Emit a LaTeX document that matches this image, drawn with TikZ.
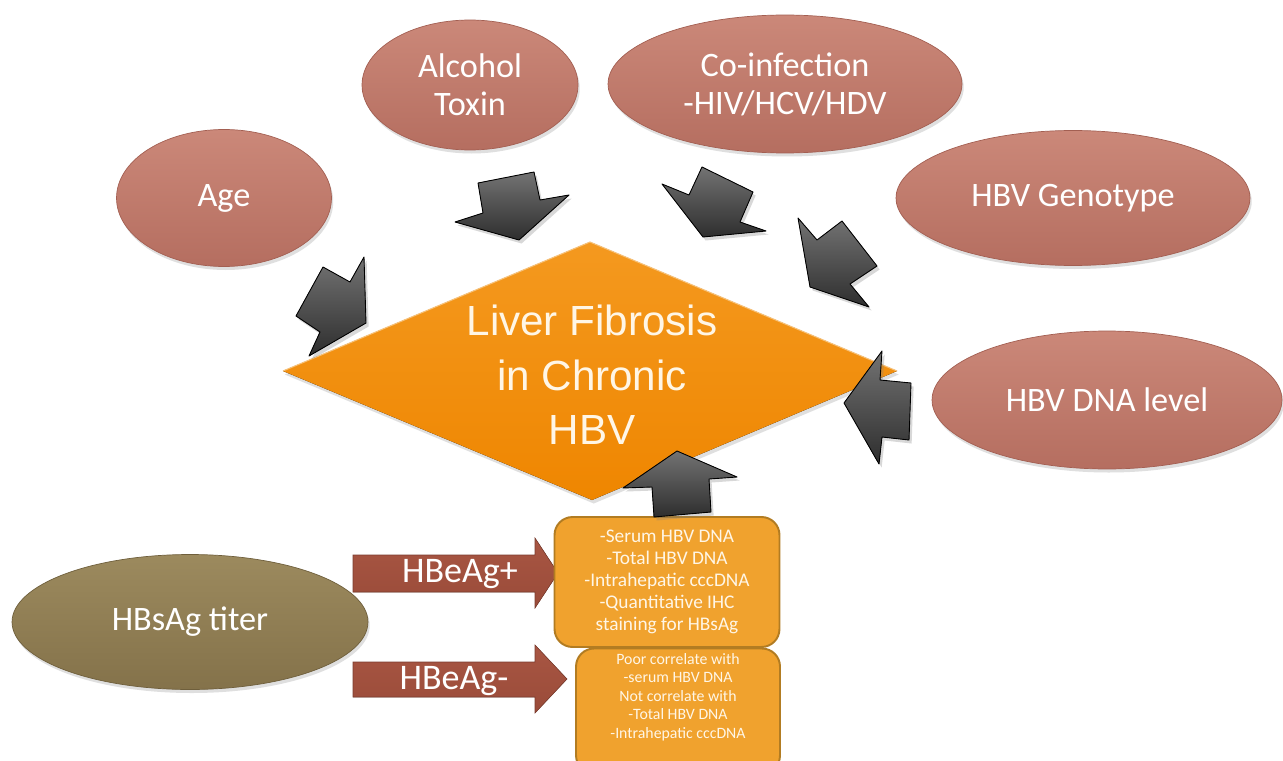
\documentclass[tikz,border=0pt]{standalone}
\usepackage{fontspec}
\setmainfont{Carlito}
\newfontfamily\arialfont{Liberation Sans}
\usetikzlibrary{shapes.geometric, shadows}
\definecolor{rosetop}{HTML}{CB8879}
\definecolor{rosebot}{HTML}{B56E60}
\definecolor{roseline}{HTML}{A35F52}
\definecolor{olivetop}{HTML}{9C8A5E}
\definecolor{olivebot}{HTML}{84724A}
\definecolor{oliveline}{HTML}{6F5F3C}
\definecolor{orangetop}{HTML}{F4991F}
\definecolor{orangebot}{HTML}{EF8600}
\definecolor{boxfill}{HTML}{F0A22E}
\definecolor{boxline}{HTML}{B27C22}
\definecolor{browntop}{HTML}{A85643}
\definecolor{brownbot}{HTML}{9A4B39}
\definecolor{cream}{HTML}{FFF6E6}

\begin{document}
\begin{tikzpicture}[x=0.02cm, y=-0.02cm,
  factor/.style={ellipse, draw=roseline, line width=0.4pt, top color=rosetop, bottom color=rosebot,
    text=white, font=\fontsize{19.5}{21.5}\selectfont, align=center, inner sep=0pt,
    drop shadow={opacity=0.25, shadow xshift=1pt, shadow yshift=-2pt}},
  darrow/.style={draw=black, line width=0.5pt, line join=round, top color=black!55, bottom color=black!82,
    drop shadow={opacity=0.3, shadow xshift=1.5pt, shadow yshift=-2pt}},
  barrow/.style={top color=browntop, bottom color=brownbot, draw=brownbot!80!black, line width=0.3pt},
  infobox/.style={rectangle, rounded corners=0.36cm, draw=boxline, line width=1.1pt, fill=boxfill},
  boxtext/.style={text=cream, align=center, inner sep=0pt}]

\fill[white] (0,0) rectangle (1283,760);
\useasboundingbox (0,0) rectangle (1283,760);

% risk factors
\node[factor, minimum width=4.30cm, minimum height=2.74cm] (age) at (224,198) {Age};
\node[factor, minimum width=4.32cm, minimum height=2.60cm] (alcohol) at (470,85) {Alcohol\\Toxin};
\node[factor, minimum width=7.08cm, minimum height=2.76cm] (coinf) at (785,84) {Co-infection\\-HIV/HCV/HDV};
\node[factor, minimum width=7.08cm, minimum height=2.70cm] (genotype) at (1073,198) {HBV Genotype};
\node[factor, minimum width=7.00cm, minimum height=2.76cm] (dnalevel) at (1107,400) {HBV DNA level};
\node[factor, draw=oliveline, top color=olivetop, bottom color=olivebot, minimum width=7.12cm, minimum height=2.70cm] (titer) at (190,622) {HBsAg titer};

% central diamond
\coordinate (dl) at (283,371);
\coordinate (dt) at (590,242);
\coordinate (dr) at (897,371);
\coordinate (db) at (592,500);
\fill[top color=orangetop, bottom color=orangebot, drop shadow={opacity=0.25, shadow xshift=1pt, shadow yshift=-2pt}] (dl) -- (dt) -- (dr) -- (db) -- cycle;
\draw[orangetop!60!white, line width=0.6pt] (dl) -- (dt) -- (dr);
\node[text=cream, font=\arialfont\fontsize{24}{31}\selectfont, align=center] (fibrosis) at (592,375) {Liver Fibrosis\\in Chronic\\HBV};

% arrows into the diamond
\fill[darrow] (296,316) -- (323,267) -- (350,282) -- (364,257) -- (366,323) -- (309,356) -- (320,332) -- cycle;
\fill[darrow] (478,183) -- (534,172) -- (540,200) -- (569,195) -- (519,240) -- (455,222) -- (483,213) -- cycle;
\fill[darrow] (702,167) -- (753,192) -- (740,222) -- (766,231) -- (703,237) -- (662,184) -- (689,195) -- cycle;
\fill[darrow] (842,221) -- (877,266) -- (850,284) -- (869,307) -- (810,287) -- (798,218) -- (817,240) -- cycle;
\fill[darrow] (911,383) -- (909,440) -- (882,437) -- (879,464) -- (844,403) -- (882,351) -- (880,380) -- cycle;

% HBeAg branches
\fill[barrow] (353,555) -- (535,555) -- (535,538) -- (558,573) -- (535,608) -- (535,592) -- (353,592) -- cycle;
\fill[barrow] (353,662) -- (535,662) -- (535,645) -- (567,679) -- (535,713) -- (535,697) -- (353,697) -- cycle;
\node[text=white, font=\fontsize{20.5}{22}\selectfont] (pos) at (460,574) {HBeAg+};
\node[text=white, font=\fontsize{20.5}{22}\selectfont] (neg) at (454,681) {HBeAg-};

% correlation boxes
\node[infobox, minimum width=4.50cm, minimum height=2.60cm] (posbox) at (667,582) {};
\node[infobox, minimum width=4.08cm, minimum height=2.50cm] (negbox) at (678,711) {};
\node[boxtext, font=\fontsize{11}{12.5}\selectfont] (postext) at (667,582) {-Serum HBV DNA\\-Total HBV DNA\\-Intrahepatic cccDNA\\-Quantitative IHC\\staining for HBsAg};
\node[boxtext, font=\fontsize{9}{10.5}\selectfont] (negtext) at (678,697) {Poor correlate with\\-serum HBV DNA\\Not correlate with\\-Total HBV DNA\\-Intrahepatic cccDNA};

\fill[darrow] (677,451) -- (737,477) -- (709,479) -- (711,512) -- (654,517) -- (652,487) -- (623,488) -- cycle;
\end{tikzpicture}
\end{document}
